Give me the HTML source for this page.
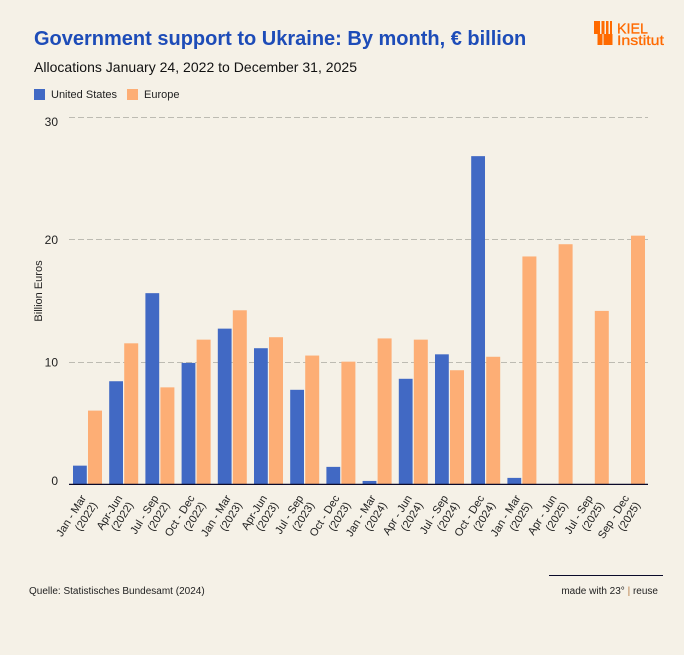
<!DOCTYPE html>
<html lang="en">
<head>
<meta charset="utf-8">
<title>Government support to Ukraine</title>
<style>
html,body{margin:0;padding:0;background:#f5f1e7;}
svg{display:block;font-family:"Liberation Sans",Arial,sans-serif;}
</style>
</head>
<body>
<svg id="chart" xmlns="http://www.w3.org/2000/svg" width="684" height="655" viewBox="0 0 684 655">
  <rect x="0" y="0" width="684" height="655" fill="#f5f1e7"/>
  <text x="34" y="45" font-size="20" font-weight="700" fill="#1d4cb8">Government support to Ukraine: By month, € billion</text>
  <text x="34" y="72" font-size="14" fill="#111" textLength="323">Allocations January 24, 2022 to December 31, 2025</text>
  <g>
    <g>
      <rect x="34" y="89" width="11" height="11" fill="#4169c4"/>
      <text x="51" y="98" font-size="11" fill="#222">United States</text>
    </g>
    <g>
      <rect x="127" y="89" width="11" height="11" fill="#fdae75"/>
      <text x="144" y="98" font-size="11" fill="#222">Europe</text>
    </g>
  </g>
  <g id="logo">
    <rect x="594" y="21" width="6" height="13" fill="#ff6a00"/>
    <rect x="601.500" y="21" width="3" height="13" fill="#ff6a00"/>
    <rect x="606" y="21" width="2.500" height="13" fill="#ff6a00"/>
    <rect x="610" y="21" width="2" height="13" fill="#ff6a00"/>
    <rect x="597.500" y="34" width="5" height="11" fill="#ff6a00"/>
    <rect x="603.500" y="34" width="9" height="11" fill="#ff6a00"/>
    <text x="617" y="33.500" font-size="15" fill="#ff6a00" stroke="#ff6a00" stroke-width="0.3" textLength="31" lengthAdjust="spacingAndGlyphs">KIEL</text>
    <text x="617" y="45" font-size="14" fill="#ff6a00" stroke="#ff6a00" stroke-width="0.3" textLength="47" lengthAdjust="spacingAndGlyphs">Institut</text>
  </g>
  <g id="grid"></g>
  <g id="yticks"></g>
  <text transform="translate(42,291) rotate(-90)" text-anchor="middle" font-size="11" fill="#222">Billion Euros</text>
  <g id="bars"></g>
  <line x1="69" y1="484.400" x2="648" y2="484.400" stroke="#0a0a2a" stroke-width="1.300"/>
  <g id="xticks"></g>
  <text x="29" y="594" font-size="10" fill="#222">Quelle: Statistisches Bundesamt (2024)</text>
  <line x1="549" y1="575.500" x2="663" y2="575.500" stroke="#0a0a2a" stroke-width="1"/>
  <text x="658" y="594" text-anchor="end" font-size="10" fill="#222">made with 23° <tspan fill="#b5793f">|</tspan> reuse</text>
</svg>
<script>
const categories = ["Jan - Mar", "Apr-Jun", "Jul - Sep", "Oct - Dec", "Jan - Mar", "Apr-Jun", "Jul - Sep", "Oct - Dec", "Jan - Mar", "Apr - Jun", "Jul - Sep", "Oct - Dec", "Jan - Mar", "Apr - Jun", "Jul - Sep", "Sep - Dec"];
const years = ["(2022)", "(2022)", "(2022)", "(2022)", "(2023)", "(2023)", "(2023)", "(2023)", "(2024)", "(2024)", "(2024)", "(2024)", "(2025)", "(2025)", "(2025)", "(2025)"];
const unitedStates = [1.5, 8.4, 15.6, 9.9, 12.7, 11.1, 7.7, 1.4, 0.25, 8.6, 10.6, 26.8, 0.5, 0, 0, 0];
const europe = [6.0, 11.5, 7.9, 11.8, 14.2, 12.0, 10.5, 10.0, 11.9, 11.8, 9.3, 10.4, 18.6, 19.6, 14.15, 20.3];
const yTickValues = [0, 10, 20, 30];

const NS = "http://www.w3.org/2000/svg";
const xStart = 70.5, xStep = 36.2;
const yScale = v => 484 - v * (484 - 117) / 30;
const xBand = i => xStart + i * xStep;
/* tick labels sit lower at the top of the axis and just above the line at zero */
const tickOffset = v => v === 0 ? 1 : (v >= 30 ? 9 : 4.7);

function make(tag, attrs, parent) {
  const el = document.createElementNS(NS, tag);
  for (const k in attrs) el.setAttribute(k, attrs[k]);
  parent.appendChild(el);
  return el;
}

const gridG = document.getElementById("grid");
const tickG = document.getElementById("yticks");
yTickValues.forEach(v => {
  if (v > 0) {
    const gy = Math.round(yScale(v)) + 0.5;
    const line = make("line", {x1: 69, x2: 648, y1: gy, y2: gy, stroke: "#bdbbb2", "stroke-width": 1, "stroke-dasharray": "6 3"}, gridG);
    
    
  }
  const t = make("text", {x: 58, y: yScale(v) + tickOffset(v), "text-anchor": "end", "font-size": 12, fill: "#222"}, tickG);
  
  
  t.textContent = v;
});

const barsG = document.getElementById("bars");
categories.forEach((c, i) => {
  if (unitedStates[i] > 0) {
    const a = make("rect", {x: xBand(i) + 2.5, y: yScale(unitedStates[i]), width: 13.8, height: yScale(0) - yScale(unitedStates[i]), fill: "#4169c4"}, barsG);
    
    
  }
  if (europe[i] > 0) {
    const b = make("rect", {x: xBand(i) + 17.5, y: yScale(europe[i]), width: 14, height: yScale(0) - yScale(europe[i]), fill: "#fdae75"}, barsG);
    
    
  }
});

const xG = document.getElementById("xticks");
categories.forEach((c, i) => {
  const g = make("g", {transform: "translate(" + (xBand(i) + 16) + ",498) rotate(-58)"}, xG);
  
  
  const t1 = make("text", {x: 0, y: 0, "text-anchor": "end", "font-size": 11, fill: "#222"}, g);
  
  
  t1.textContent = c;
  const t2 = make("text", {x: 0, y: 13, "text-anchor": "end", "font-size": 11, fill: "#222"}, g);
  
  
  t2.textContent = years[i];
});
</script>
</body>
</html>
